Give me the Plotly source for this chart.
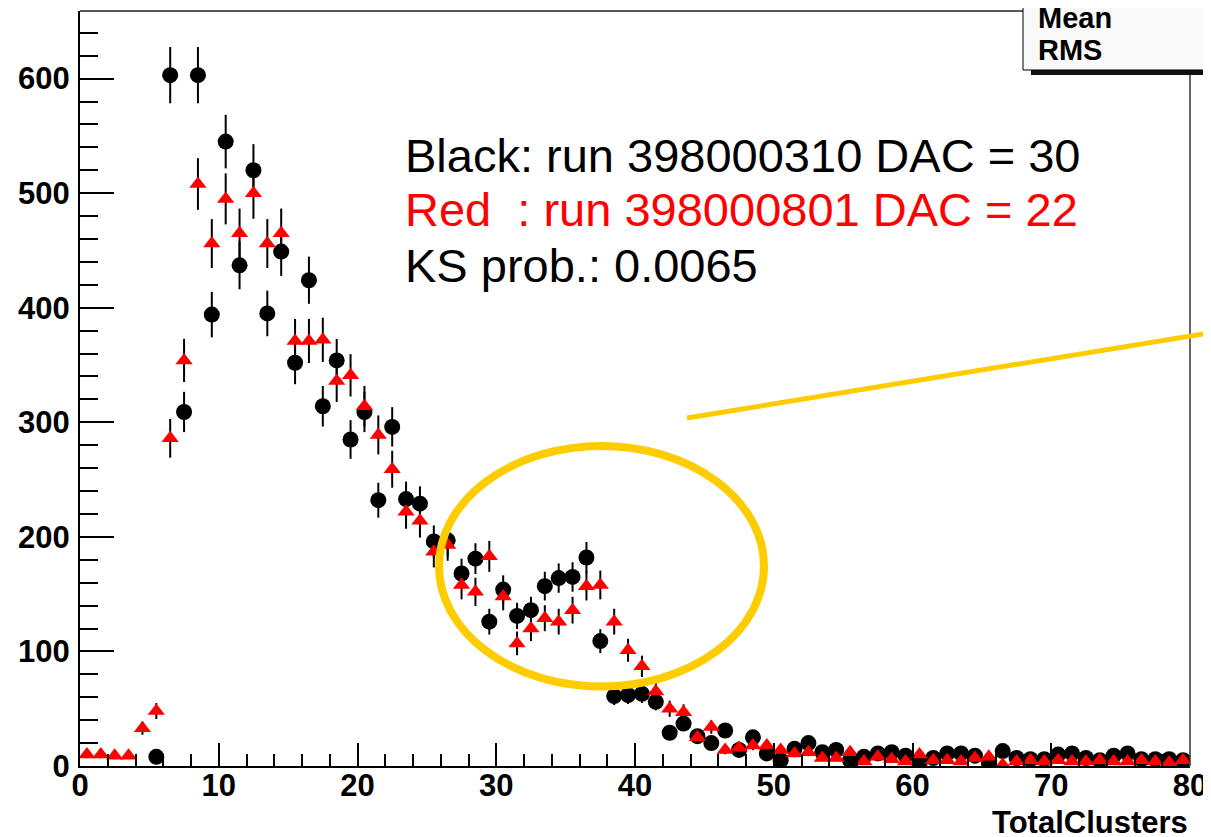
import numpy as np
import plotly.graph_objects as go

# Histogram bin centres (bin width 1, range 0-80)
bin_centers = np.arange(0.5, 80.0, 1.0)

# Black: run 398000310 (DAC = 30)
black_counts = [
    None, None, None, None, None, 8, 603, 309, 603, 394,
    545, 437, 520, 395, 449, 352, 424, 314, 354, 285,
    309, 232, 296, 233, 229, 196, 197, 168, 181, 126,
    154, 131, 136, 157, 164, 165, 182, 109, 61, 62,
    63, 56, 29, 37, 26, 20, 31, 14, 25, 11,
    5, 15, 20, 12, 14, 5, 8, 11, 12, 9,
    2, 7, 11, 11, 9, 3, 13, 7, 6, 6,
    10, 11, 7, 5, 9, 11, 6, 6, 6, 5,
]

# Red: run 398000801 (DAC = 22)
red_counts = [
    10, 10, 9, 9, 33, 48, 286, 354, 508, 456,
    495, 465, 500, 456, 465, 371, 371, 372, 336, 341,
    314, 289, 259, 222, 214, 187, 193, 158, 152, 183,
    148, 107, 120, 129, 126, 136, 157, 158, 126, 101,
    87, 65, 50, 47, 25, 34, 14, 16, 18, 18,
    14, 11, 12, 7, 7, 12, 4, 8, 6, 4,
    10, 5, 5, 4, 7, 8, 1, 4, 5, 4,
    5, 4, 4, 5, 4, 4, 5, 4, 3, 5,
]

x_ticks = [0, 10, 20, 30, 40, 50, 60, 70, 80]
y_ticks = [0, 100, 200, 300, 400, 500, 600]

text_lines = [
    ("Black: run 398000310 DAC = 30", "black"),
    ("Red&nbsp;&nbsp;: run 398000801 DAC = 22", "#ff0000"),
    ("KS prob.: 0.0065", "black"),
]


def poisson_err(vals):
    return [None if v is None else float(np.sqrt(v)) for v in vals]


fig = go.Figure()
fig.add_trace(go.Scatter(
    x=bin_centers, y=black_counts, mode="markers",
    marker=dict(symbol="circle", size=16, color="black"),
    error_y=dict(type="data", array=poisson_err(black_counts), color="black",
                 thickness=2, width=0),
    showlegend=False,
))
fig.add_trace(go.Scatter(
    x=bin_centers, y=red_counts, mode="markers",
    marker=dict(symbol="triangle-up", size=15, color="#ff0000"),
    error_y=dict(type="data", array=poisson_err(red_counts), color="black",
                 thickness=2, width=0),
    showlegend=False,
))

# The page body has an 8px margin, so the figure starts at (8, 8) on the page.
OFF = 8
W, H = 1211 - OFF, 837 - OFF
PL, PR, PT, PB = 80, 1190, 11, 766          # plot area in page pixels
L, R, T, B = PL - OFF, W - (PR - OFF), PT - OFF, H - (PB - OFF)

tickfont = dict(family="Liberation Sans", size=31, color="black", weight="bold")

fig.update_layout(
    width=W, height=H,
    margin=dict(l=L, r=R, t=T, b=B, pad=0),
    paper_bgcolor="white", plot_bgcolor="white",
    font=dict(family="Liberation Sans", color="black"),
    xaxis=dict(
        range=[0, 80], tickvals=x_ticks, ticktext=[str(v) for v in x_ticks],
        ticks="inside", ticklen=23, tickwidth=2, tickcolor="black",
        minor=dict(dtick=2, tick0=0, ticks="inside", ticklen=12, tickwidth=2,
                   tickcolor="black"),
        showline=True, linecolor="black", linewidth=2, automargin=False,
        showgrid=False, zeroline=False, tickfont=tickfont, ticklabelstandoff=-9,
    ),
    yaxis=dict(
        range=[0, 659], tickvals=y_ticks, ticktext=[str(v) for v in y_ticks],
        ticks="inside", ticklen=34, tickwidth=2, tickcolor="black",
        minor=dict(dtick=20, tick0=0, ticks="inside", ticklen=18, tickwidth=2,
                   tickcolor="black"),
        showline=True, linecolor="black", linewidth=2, automargin=False,
        showgrid=False, zeroline=False, tickfont=tickfont, ticklabelstandoff=2,
    ),
)


def px_x(p):
    return (p - PL) / (PR - PL)


def px_y(p):
    return (PB - p) / (PB - PT)


shapes = []
# frame top and right
shapes.append(dict(type="line", xref="paper", yref="paper", x0=0, x1=1, y0=1, y1=1,
                   line=dict(color="#222", width=1.5)))
shapes.append(dict(type="line", xref="paper", yref="paper", x0=1, x1=1, y0=0, y1=1,
                   line=dict(color="#333", width=1.5)))
# stats box shadow + box
shapes.append(dict(type="rect", xref="paper", yref="paper",
                   x0=px_x(1031), x1=px_x(1230), y0=px_y(75), y1=px_y(-10),
                   fillcolor="#111", line=dict(width=0)))
shapes.append(dict(type="rect", xref="paper", yref="paper",
                   x0=px_x(1023), x1=px_x(1230), y0=px_y(70), y1=px_y(-10),
                   fillcolor="#fafafa", line=dict(color="black", width=1)))
# yellow ellipse
shapes.append(dict(type="circle", xref="paper", yref="paper",
                   x0=px_x(439), x1=px_x(764), y0=px_y(686.5), y1=px_y(446),
                   line=dict(color="#ffcc00", width=8)))
# yellow line
shapes.append(dict(type="line", xref="paper", yref="paper",
                   x0=px_x(687), y0=px_y(418), x1=px_x(1215), y1=px_y(332),
                   line=dict(color="#ffcc00", width=5)))
fig.update_layout(shapes=shapes)

annotations = []
for i, (txt, col) in enumerate(text_lines):
    annotations.append(dict(
        xref="paper", yref="paper", x=px_x(403), y=px_y(155 + 55 * i),
        xanchor="left", yanchor="middle", showarrow=False, text=txt,
        font=dict(family="Liberation Sans", size=47, color=col),
    ))
annotations.append(dict(
    xref="paper", yref="paper", x=1, y=px_y(822), xanchor="right", yanchor="middle",
    showarrow=False, text="TotalClusters",
    font=dict(family="Liberation Sans", size=31, color="black", weight="bold"),
))
annotations.append(dict(
    xref="paper", yref="paper", x=px_x(1036), y=px_y(18), xanchor="left", yanchor="middle",
    showarrow=False, text="Mean",
    font=dict(family="Liberation Sans", size=29, color="black", weight="bold"),
))
annotations.append(dict(
    xref="paper", yref="paper", x=px_x(1036), y=px_y(50), xanchor="left", yanchor="middle",
    showarrow=False, text="RMS",
    font=dict(family="Liberation Sans", size=29, color="black", weight="bold"),
))
fig.update_layout(annotations=annotations)

fig.write_html("out.html")
